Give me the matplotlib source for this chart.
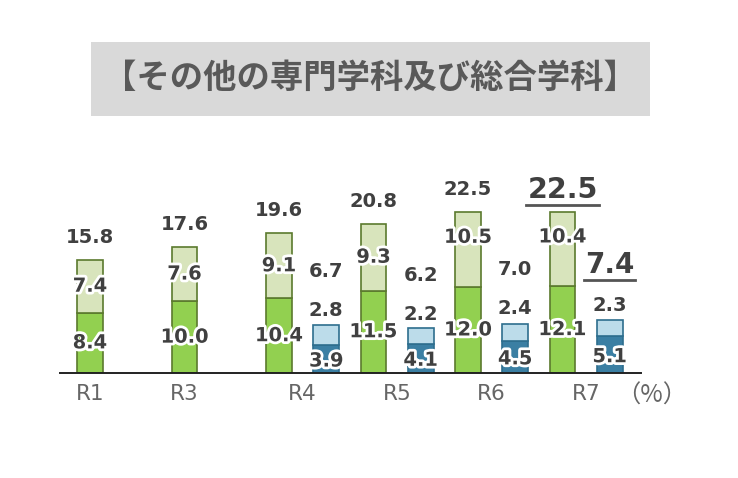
import matplotlib
matplotlib.use('Agg')
import matplotlib.pyplot as plt
import matplotlib.patheffects as pe
from matplotlib.patches import Rectangle
from matplotlib.lines import Line2D

plt.rcParams['font.family'] = ['DejaVu Sans', 'Noto Sans CJK JP']

# data (%)
years = ['R1', 'R3', 'R4', 'R5', 'R6', 'R7']
green_low = [8.4, 10.0, 10.4, 11.5, 12.0, 12.1]
green_high = [7.4, 7.6, 9.1, 9.3, 10.5, 10.4]
green_total = [15.8, 17.6, 19.6, 20.8, 22.5, 22.5]

blue_years = ['R4', 'R5', 'R6', 'R7']
blue_low = [3.9, 4.1, 4.5, 5.1]
blue_high = [2.8, 2.2, 2.4, 2.3]
blue_total = [6.7, 6.2, 7.0, 7.4]

title = '【その他の専門学科及び総合学科】'

# layout
green_x = [0, 2, 4, 6, 8, 10]
blue_x = [5, 7, 9, 11]
tick_x = [0, 2, 4.5, 6.5, 8.5, 10.5]
bar_w = 0.55

G_LOW = '#92d050'
G_HIGH = '#d8e4bc'
G_EDGE = '#5b7a2e'
B_LOW = '#3b7fa3'
B_HIGH = '#bcdcea'
B_EDGE = '#2e6e8e'
TXT = '#404040'

W, H = 738, 478
fig = plt.figure(figsize=(W / 100, H / 100), dpi=100)

# title box
fig.patches.append(Rectangle((91 / W, (H - 116) / H), (650 - 91) / W, 74 / H,
                             transform=fig.transFigure, facecolor='#d9d9d9',
                             edgecolor='none', zorder=0))
fig.text(370 / W, (H - 78) / H, title, ha='center', va='center',
         fontsize=24, fontweight='bold', color='#595959',
         family=['Noto Sans CJK JP', 'DejaVu Sans'])

ax_left, ax_right = 60, 641
ax_bot, ax_top = 373, 150
ax = fig.add_axes([ax_left / W, (H - ax_bot) / H, (ax_right - ax_left) / W,
                   (ax_bot - ax_top) / H])
px_per_unit = 7.17
ax.set_ylim(0, (ax_bot - ax_top) / px_per_unit)
unit_px = 47.25
ax.set_xlim(-(90 - ax_left) / unit_px, (ax_right - 90) / unit_px)

ax.bar(green_x, green_low, bar_w, color=G_LOW, edgecolor=G_EDGE, linewidth=1.2)
ax.bar(green_x, green_high, bar_w, bottom=green_low, color=G_HIGH,
       edgecolor=G_EDGE, linewidth=1.2)
ax.bar(blue_x, blue_low, bar_w, color=B_LOW, edgecolor=B_EDGE, linewidth=1.2)
ax.bar(blue_x, blue_high, bar_w, bottom=blue_low, color=B_HIGH,
       edgecolor=B_EDGE, linewidth=1.2)

for s in ['top', 'right', 'left']:
    ax.spines[s].set_visible(False)
ax.spines['bottom'].set_linewidth(1.4)
ax.spines['bottom'].set_color('#222222')
ax.set_yticks([])
ax.set_xticks(tick_x)
ax.set_xticklabels(years, fontsize=15.5, color='#666666')
ax.tick_params(axis='x', length=0, pad=8)
fig.text(652 / W, (H - 396) / H, '（%）', ha='center', va='center',
         fontsize=17.5, color='#666666', family=['Noto Sans CJK JP'])

glow = [pe.withStroke(linewidth=4, foreground='white')]


def label(x, y, s, dy=0, size=14, pe_on=True):
    return ax.annotate(s, (x, y), xytext=(0, dy), textcoords='offset pixels',
                       ha='center', va='center', fontsize=size,
                       fontweight='bold', color=TXT,
                       path_effects=glow if pe_on else None, zorder=5)


underline = []
n = len(years)
for i in range(n):
    x = green_x[i]
    label(x, green_low[i] / 2, f'{green_low[i]:.1f}')
    nudge = 12 if years[i] in ('R6', 'R7') else 0
    label(x, green_low[i] + green_high[i] / 2, f'{green_high[i]:.1f}', dy=nudge)
    if i == n - 1:
        t = label(x, green_total[i], f'{green_total[i]:.1f}', dy=22, size=20.5,
                  pe_on=False)
        underline.append(t)
    else:
        label(x, green_total[i], f'{green_total[i]:.1f}', dy=22, pe_on=False)

for j in range(len(blue_years)):
    x = blue_x[j]
    label(x, blue_low[j] / 2, f'{blue_low[j]:.1f}', dy=-2)
    label(x, blue_total[j], f'{blue_high[j]:.1f}', dy=14, pe_on=False)
    if j == len(blue_years) - 1:
        t = label(x, blue_total[j], f'{blue_total[j]:.1f}', dy=55, size=20,
                  pe_on=False)
        underline.append(t)
    else:
        label(x, blue_total[j], f'{blue_total[j]:.1f}', dy=53, pe_on=False)

fig.canvas.draw()
r = fig.canvas.get_renderer()
for t in underline:
    bb = t.get_window_extent(r)
    yy = bb.y0 - 1
    fig.add_artist(Line2D([(bb.x0 - 1) / W, (bb.x1 + 1) / W], [yy / H, yy / H],
                          transform=fig.transFigure, color='#555555',
                          linewidth=2))

fig.savefig('out.png', dpi=100)
